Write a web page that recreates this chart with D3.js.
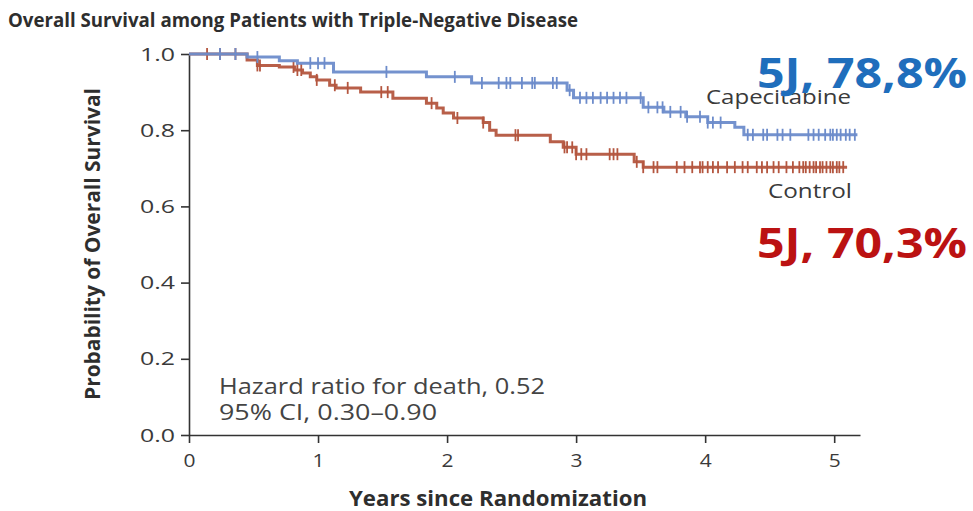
<!DOCTYPE html>
<html>
<head>
<meta charset="utf-8">
<script src="https://cdn.jsdelivr.net/npm/d3@7"></script>
<style>
  html, body { margin: 0; padding: 0; background: #fff; }
  svg { display: block; }
</style>
</head>
<body>
<svg id="chart" width="973" height="511"></svg>
<script>
// Kaplan–Meier step points: [years, survival probability]
const capecitabineSteps = [
  [0, 1.0], [0.45, 0.992], [0.70, 0.982], [0.84, 0.976], [1.12, 0.953],
  [1.84, 0.94], [2.19, 0.924], [2.93, 0.905], [2.98, 0.885], [3.52, 0.86],
  [3.68, 0.848], [3.85, 0.835], [4.02, 0.82], [4.23, 0.808], [4.30, 0.788]
];
const capecitabineEnd = 5.18;
const capecitabineCensored = [
  0.24, 0.36, 0.53, 0.94, 1.0, 1.05, 1.53, 2.06, 2.27, 2.40, 2.46, 2.49, 2.58,
  2.66, 2.68, 2.82, 2.85, 2.95, 3.03, 3.08, 3.13, 3.19, 3.24, 3.29, 3.34, 3.39,
  3.50, 3.56, 3.63, 3.67, 3.73, 3.81, 3.86, 3.96, 4.02, 4.06, 4.12, 4.33, 4.37,
  4.45, 4.48, 4.56, 4.60, 4.66, 4.80, 4.84, 4.88, 4.93, 4.97, 4.99, 5.02, 5.05,
  5.09, 5.12, 5.16
];

const controlSteps = [
  [0, 1.0], [0.45, 0.984], [0.53, 0.97], [0.70, 0.966], [0.82, 0.958],
  [0.88, 0.95], [0.94, 0.94], [0.99, 0.932], [1.09, 0.918], [1.14, 0.911],
  [1.33, 0.90], [1.58, 0.884], [1.84, 0.871], [1.92, 0.858], [1.97, 0.845],
  [2.05, 0.832], [2.28, 0.82], [2.33, 0.80], [2.38, 0.787], [2.80, 0.77],
  [2.90, 0.755], [3.00, 0.737], [3.45, 0.717], [3.52, 0.703]
];
const controlEnd = 5.10;
const controlCensored = [
  0.14, 0.24, 0.36, 0.53, 0.55, 0.81, 0.84, 0.87, 0.99, 1.13, 1.23, 1.49, 1.54,
  1.88, 2.08, 2.28, 2.53, 2.55, 2.91, 2.93, 2.97, 3.00, 3.04, 3.08, 3.26, 3.29,
  3.32, 3.47, 3.52, 3.60, 3.63, 3.78, 3.84, 3.90, 3.96, 3.98, 4.02, 4.06, 4.10,
  4.17, 4.23, 4.29, 4.33, 4.40, 4.44, 4.48, 4.53, 4.57, 4.63, 4.68, 4.73, 4.76,
  4.78, 4.81, 4.84, 4.86, 4.89, 4.91, 4.94, 4.97, 4.99, 5.02, 5.04, 5.07
];

const xTicks = [0, 1, 2, 3, 4, 5];
const yTicks = [0.0, 0.2, 0.4, 0.6, 0.8, 1.0];

const titleText = "Overall Survival among Patients with Triple-Negative Disease";
const xLabel = "Years since Randomization";
const yLabel = "Probability of Overall Survival";
const hazardLines = ["Hazard ratio for death, 0.52", "95% CI, 0.30\u20130.90"];
const armNames = ["Capecitabine", "Control"];
const fiveYear = ["5J, 78,8%", "5J, 70,3%"];

const blue = "#6d8ccb";
const red = "#b4563f";
const ink = "#3a3a3a";
const FONT = "Open Sans";

const svg = d3.select("#chart");
const x = d3.scaleLinear().domain([0, 5.2]).range([189, 860]);
const y = d3.scaleLinear().domain([0, 1]).range([435, 54]);

// Text helper: set font, size and the run width of the set face
function label(sel, { size, weight = 400, fill = ink, width }) {
  sel.attr("font-family", FONT).attr("font-size", size)
    .attr("font-weight", weight).attr("fill", fill);
  if (width) sel.attr("textLength", width).attr("lengthAdjust", "spacingAndGlyphs");
  return sel;
}

// Title
svg.append("text").attr("x", 8).attr("y", 27).text(titleText)
  .call(label, { size: 20, weight: 700, fill: "#2e2e2e", width: 570 });

// Axes
const xAxis = svg.append("g")
  .attr("transform", `translate(0,${y(0)})`)
  .call(d3.axisBottom(x).tickValues(xTicks).tickFormat(d3.format("d"))
    .tickSize(8).tickSizeOuter(0).tickPadding(11));
xAxis.selectAll("text").call(label, { size: 19, width: 12 });
xAxis.select(".domain").attr("stroke", "#333").attr("stroke-width", 1.6);
xAxis.selectAll(".tick line").attr("stroke", "#333").attr("stroke-width", 1.6);

const yAxis = svg.append("g")
  .attr("transform", `translate(${x(0)},0)`)
  .call(d3.axisLeft(y).tickValues(yTicks).tickFormat(d3.format(".1f"))
    .tickSize(8).tickSizeOuter(0).tickPadding(6));
yAxis.selectAll("text").call(label, { size: 19, width: 35 });
yAxis.select(".domain").attr("stroke", "#333").attr("stroke-width", 1.6);
yAxis.selectAll(".tick line").attr("stroke", "#333").attr("stroke-width", 1.6);

// Axis titles
svg.append("text")
  .attr("x", 498).attr("y", 506).attr("text-anchor", "middle").text(xLabel)
  .call(label, { size: 22, weight: 700, fill: "#2e2e2e", width: 298 });

svg.append("text")
  .attr("transform", `translate(100,244) rotate(-90)`)
  .attr("text-anchor", "middle").text(yLabel)
  .call(label, { size: 22, weight: 700, fill: "#2e2e2e", width: 312 });

// Survival curves
function stepPath(steps, end) {
  const pts = steps.map(d => [d[0], d[1]]);
  pts.push([end, steps[steps.length - 1][1]]);
  return d3.line().x(d => x(d[0])).y(d => y(d[1])).curve(d3.curveStepAfter)(pts);
}
function survivalAt(steps, t) {
  let s = steps[0][1];
  for (const [ti, si] of steps) { if (ti <= t) s = si; }
  return s;
}

const arms = [
  { steps: controlSteps, end: controlEnd, cens: controlCensored, color: red },
  { steps: capecitabineSteps, end: capecitabineEnd, cens: capecitabineCensored, color: blue }
];

arms.forEach(a => {
  svg.append("path")
    .attr("d", stepPath(a.steps, a.end))
    .attr("fill", "none").attr("stroke", a.color)
    .attr("stroke-width", 3).attr("opacity", 0.95);
  svg.append("g").selectAll("line")
    .data(a.cens).join("line")
    .attr("x1", d => x(d)).attr("x2", d => x(d))
    .attr("y1", d => y(survivalAt(a.steps, d)) - 6)
    .attr("y2", d => y(survivalAt(a.steps, d)) + 6)
    .attr("stroke", a.color).attr("stroke-width", 1.8);
});

// Arm labels
svg.append("text").attr("x", 706).attr("y", 104).text(armNames[0])
  .call(label, { size: 20, width: 145 });
svg.append("text").attr("x", 768).attr("y", 198).text(armNames[1])
  .call(label, { size: 20, width: 84 });

// Hazard ratio note
svg.append("text").attr("x", 219).attr("y", 394).text(hazardLines[0])
  .call(label, { size: 21, fill: "#444", width: 326 });
svg.append("text").attr("x", 219).attr("y", 420).text(hazardLines[1])
  .call(label, { size: 21, fill: "#444", width: 218 });

// Five-year survival callouts
svg.append("text").attr("x", 757).attr("y", 88).text(fiveYear[0])
  .call(label, { size: 41, weight: 700, fill: "#1f6ebc", width: 210 });
svg.append("text").attr("x", 757).attr("y", 258).text(fiveYear[1])
  .call(label, { size: 41, weight: 700, fill: "#bb1212", width: 210 });
</script>
</body>
</html>
